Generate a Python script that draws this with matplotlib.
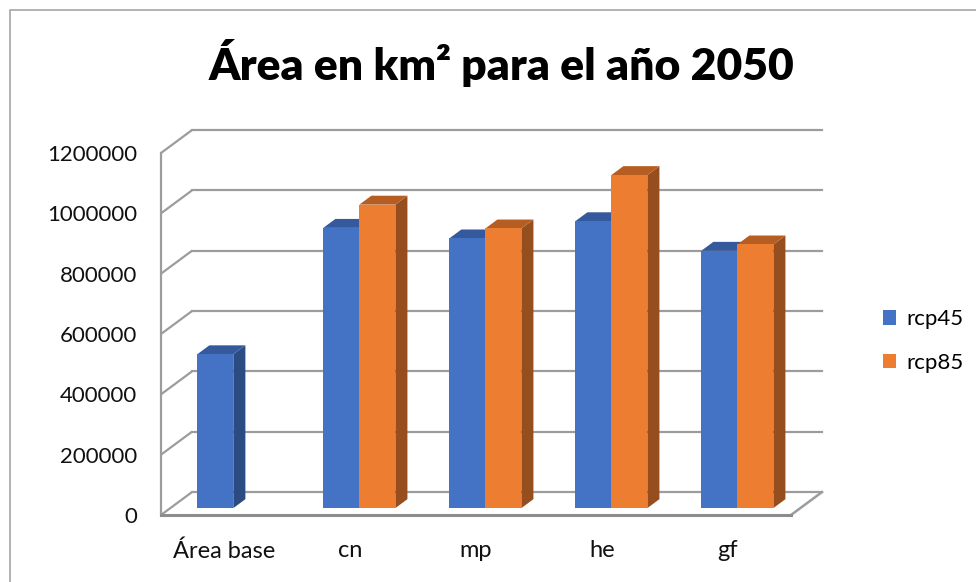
import numpy as np
import matplotlib.pyplot as plt
from matplotlib.patches import Polygon, Rectangle, Patch

# data: area in km2 for 2050
categories = ['Área base', 'cn', 'mp', 'he', 'gf']
rcp45 = [510000, 929000, 894000, 951000, 853000]
rcp85 = [np.nan, 1006000, 927000, 1104000, 874000]
yticks = [0, 200000, 400000, 600000, 800000, 1000000, 1200000]

blue = ('#4472C4', '#34599C', '#2B4B82')     # front, top, side
orange = ('#ED7D31', '#B65E22', '#974E1E')

plt.rcParams['font.family'] = ['Lato', 'DejaVu Sans']

fig = plt.figure(figsize=(9.76, 5.82), dpi=100)
W, H = 976, 582

# outer chart frame
fig.patches.append(Rectangle((10 / W, -0.1), 1.2, 1 - 10 / H + 0.1,
                             transform=fig.transFigure, fill=False,
                             edgecolor='#A6A6A6', linewidth=1.2))

ax = fig.add_axes([161 / W, 67 / H, 630 / W, 362 / H])
ax.set_xlim(-0.5, len(categories) - 0.5)
ax.set_ylim(0, 1200000)
for s in ax.spines.values():
    s.set_visible(False)

# depth of the 3d box in data units
DX = 0.246
DY = 76000
x_left, x_right = -0.5, len(categories) - 0.5
grid_col = '#9C9C9C'

# walls: diagonals on the left side, horizontal lines on the back
for v in yticks:
    ax.plot([x_left, x_left + DX], [v, v + DY], color=grid_col, lw=1.6,
            clip_on=False, zorder=1, solid_capstyle='butt')
    ax.plot([x_left + DX, x_right + DX], [v + DY, v + DY], color=grid_col,
            lw=1.6, clip_on=False, zorder=1)
ax.plot([x_left, x_left], [0, yticks[-1]], color=grid_col, lw=1.6,
        clip_on=False, zorder=1)
# floor edges
ax.plot([x_right, x_right + DX], [0, DY], color=grid_col, lw=1.8,
        clip_on=False, zorder=1)
ax.plot([x_left, x_right], [0, 0], color='#8C8C8C', lw=2.2,
        clip_on=False, zorder=5)

# columns
bw = 0.286
d0, d1 = 0.30, 0.39   # front depth and column depth, as fraction of box
ox, oy = d0 * DX, d0 * DY
bx, by = d1 * DX, d1 * DY


def column(x0, val, cols, z):
    x1 = x0 + bw
    y0, y1 = oy, oy + val
    ax.add_patch(Polygon([(x1, y0), (x1 + bx, y0 + by), (x1 + bx, y1 + by),
                          (x1, y1)], closed=True, facecolor=cols[2],
                         edgecolor='none', clip_on=False, zorder=z))
    ax.add_patch(Polygon([(x0, y1), (x1, y1), (x1 + bx, y1 + by),
                          (x0 + bx, y1 + by)], closed=True, facecolor=cols[1],
                         edgecolor='none', clip_on=False, zorder=z))
    ax.add_patch(Rectangle((x0, y0), bw, val, facecolor=cols[0],
                           edgecolor='none', clip_on=False, zorder=z + 0.5))


z = 2
for i in range(len(categories)):
    if not np.isnan(rcp45[i]):
        column(i + ox - bw, rcp45[i], blue, z)
        z += 1
    if not np.isnan(rcp85[i]):
        column(i + ox, rcp85[i], orange, z)
        z += 1

# axis labels
ax.set_yticks(yticks)
ax.set_yticklabels([str(v) for v in yticks])
ax.set_xticks(range(len(categories)))
ax.set_xticklabels(categories)
ax.tick_params(axis='y', length=0, pad=17, labelsize=16, labelcolor='#111111')
ax.tick_params(axis='x', length=0, pad=18, labelsize=17, labelcolor='#111111')

# legend
handles = [Patch(facecolor=blue[0]), Patch(facecolor=orange[0])]
fig.legend(handles, ['rcp45', 'rcp85'], loc='center left',
           bbox_to_anchor=(872 / W, 1 - 341 / H), frameon=False,
           fontsize=16, handlelength=0.6, handleheight=0.6,
           handletextpad=0.45, labelspacing=1.05, borderpad=0)

fig.text(501 / W, 1 - 63 / H, 'Área en km² para el año 2050',
         ha='center', va='center', fontsize=32, fontweight='heavy')

fig.savefig('out.png', dpi=100)
